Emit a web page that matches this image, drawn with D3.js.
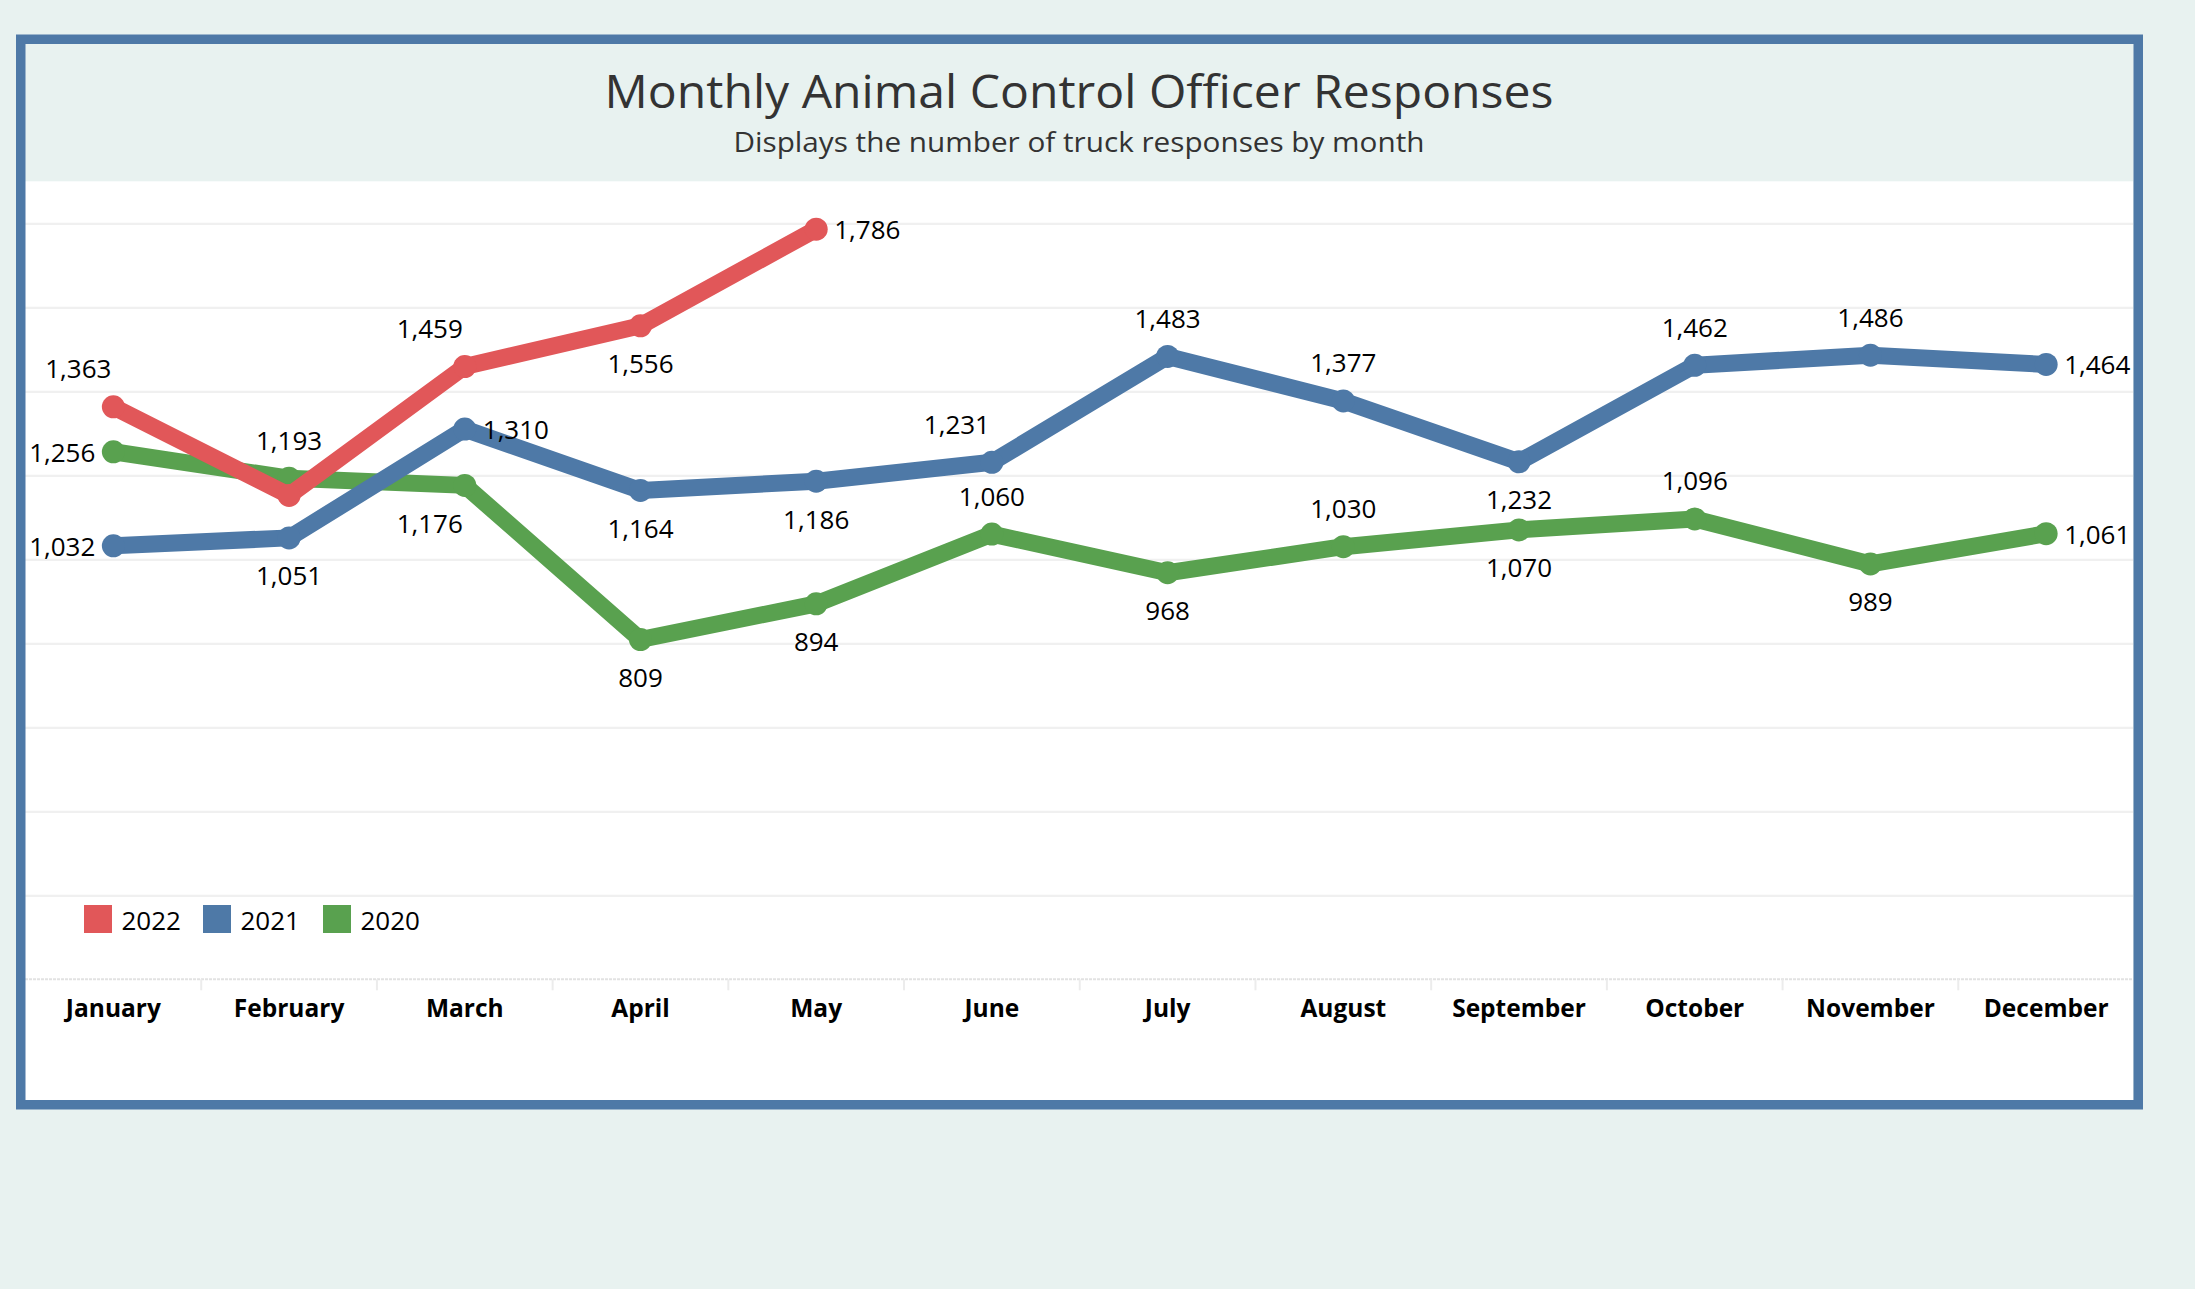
<!DOCTYPE html>
<html><head><meta charset="utf-8">
<script src="https://cdn.jsdelivr.net/npm/d3@7"></script>
<style>
html,body{margin:0;padding:0;background:#e8f2f0;}
svg{display:block;}
</style>
</head><body>
<svg id="chart" width="2195" height="1289"></svg>
<script>
// ---- data ----
const months = ["January","February","March","April","May","June","July","August","September","October","November","December"];
const years = ["2022","2021","2020"];
const values2022 = [1363, 1152, 1459, 1556, 1786];
const values2021 = [1032, 1051, 1310, 1164, 1186, 1231, 1483, 1377, 1232, 1462, 1486, 1464];
const values2020 = [1256, 1193, 1176, 809, 894, 1060, 968, 1030, 1070, 1096, 989, 1061];
const yTickValues = [0, 200, 400, 600, 800, 1000, 1200, 1400, 1600, 1800];

// ---- label placement (layout hints) ----
const place2022 = ["al", "none", "al", "b", "r"];
const place2021 = ["l", "b", "r", "b", "b", "al", "a", "a", "b", "a", "a", "r"];
const place2020 = ["l", "a", "bl", "b", "b", "a", "b", "a", "b", "a", "b", "r"];

const colors = {"2022": "#e15759", "2021": "#4e79a7", "2020": "#59a14f"};
const fontFam = "'Open Sans', 'Noto Sans', sans-serif";

const svg = d3.select("#chart");
const inner = {x0: 25, x1: 2133, y0: 44, y1: 1100};
const plotTop = 181.3, plotBottom = 979.3;

// plot background
svg.append("rect").attr("x", inner.x0).attr("y", plotTop)
  .attr("width", inner.x1 - inner.x0).attr("height", inner.y1 - plotTop)
  .attr("fill", "#ffffff");

const x = d3.scaleBand().domain(months).range([inner.x0 + 0.5, inner.x1 + 1]).paddingInner(0).paddingOuter(0);
const cx = m => x(m) + x.bandwidth() / 2;
const y = d3.scaleLinear().domain([0, 1900]).range([plotBottom, plotTop]);

// gridlines
const grid = svg.append("g").attr("transform", `translate(${inner.x0},0)`)
  .call(d3.axisLeft(y).tickValues(yTickValues.filter(v => v > 0)).tickSize(-(inner.x1 - inner.x0)).tickFormat(""));
grid.select(".domain").remove();
grid.selectAll(".tick line").attr("stroke", "#f0f0f0").attr("stroke-width", 2.2);

// zero axis line
svg.append("line").attr("x1", inner.x0).attr("x2", inner.x1)
  .attr("y1", y(0)).attr("y2", y(0))
  .attr("stroke", "#e2e2e2").attr("stroke-width", 2).attr("stroke-dasharray", "3,1");

// separators between months
svg.append("g").selectAll("line").data(months.slice(1)).join("line")
  .attr("x1", d => x(d)).attr("x2", d => x(d))
  .attr("y1", y(0)).attr("y2", y(0) + 11)
  .attr("stroke", "#ececec").attr("stroke-width", 2);

// x axis labels
const xAxis = svg.append("g").attr("transform", `translate(0,${y(0)})`)
  .call(d3.axisBottom(x).tickSize(0).tickPadding(0));
xAxis.select(".domain").remove();
xAxis.selectAll("text")
  .attr("y", 37.5).attr("dy", null)
  .style("font-family", fontFam).style("font-weight", "700").style("font-size", "24.5px")
  .attr("fill", "#000");

// series
const seriesList = [
  {year: "2020", values: values2020, place: place2020},
  {year: "2021", values: values2021, place: place2021},
  {year: "2022", values: values2022, place: place2022}
];

const line = d3.line().x(d => cx(d.m)).y(d => y(d.v));

seriesList.forEach(s => {
  const pts = s.values.map((v, i) => ({m: months[i], v, p: s.place[i]}));
  const g = svg.append("g");
  g.append("path").datum(pts).attr("d", line)
    .attr("fill", "none").attr("stroke", colors[s.year]).attr("stroke-width", 17)
    .attr("stroke-linejoin", "round").attr("stroke-linecap", "round");
  g.selectAll("circle").data(pts).join("circle")
    .attr("cx", d => cx(d.m)).attr("cy", d => y(d.v)).attr("r", 11.5)
    .attr("fill", colors[s.year]);
  s.pts = pts;
});

// labels on top
const fmt = d3.format(",");
seriesList.forEach(s => {
  svg.append("g").selectAll("text").data(s.pts.filter(d => d.p !== "none")).join("text")
    .attr("x", d => {
      const px = cx(d.m);
      if (d.p === "al" || d.p === "bl") return px - 35;
      if (d.p === "r") return px + 18;
      if (d.p === "l") return px - 18;
      return px;
    })
    .attr("y", d => {
      const py = y(d.v);
      if (d.p === "a" || d.p === "al") return py - 28.5;
      if (d.p === "b" || d.p === "bl") return py + 47.5;
      return py + 10;
    })
    .attr("text-anchor", d => d.p === "r" ? "start" : (d.p === "l" ? "end" : "middle"))
    .style("font-family", fontFam).style("font-size", "26px")
    .attr("fill", "#000")
    .text(d => fmt(d.v));
});

// legend
const lg = svg.append("g");
const legendX = [84, 203, 323];
years.forEach((yr, i) => {
  lg.append("rect").attr("x", legendX[i]).attr("y", 905).attr("width", 28).attr("height", 28).attr("fill", colors[yr]);
  lg.append("text").attr("x", legendX[i] + 37.5).attr("y", 929.5)
    .style("font-family", fontFam).style("font-size", "26px").attr("fill", "#000").text(yr);
});

// title
svg.append("text").attr("x", 1079).attr("y", 107.5).attr("text-anchor", "middle")
  .attr("textLength", 949).attr("lengthAdjust", "spacingAndGlyphs")
  .style("font-family", fontFam).style("font-size", "46px").attr("fill", "#333333")
  .text("Monthly Animal Control Officer Responses");
svg.append("text").attr("x", 1079).attr("y", 151.5).attr("text-anchor", "middle")
  .attr("textLength", 691).attr("lengthAdjust", "spacingAndGlyphs")
  .style("font-family", fontFam).style("font-size", "27px").attr("fill", "#333333")
  .text("Displays the number of truck responses by month");

// frame
svg.append("rect").attr("x", 20.75).attr("y", 39.25)
  .attr("width", 2117.5).attr("height", 1065.5)
  .attr("fill", "none").attr("stroke", "#4e79a7").attr("stroke-width", 9.5);
</script>
</body></html>
